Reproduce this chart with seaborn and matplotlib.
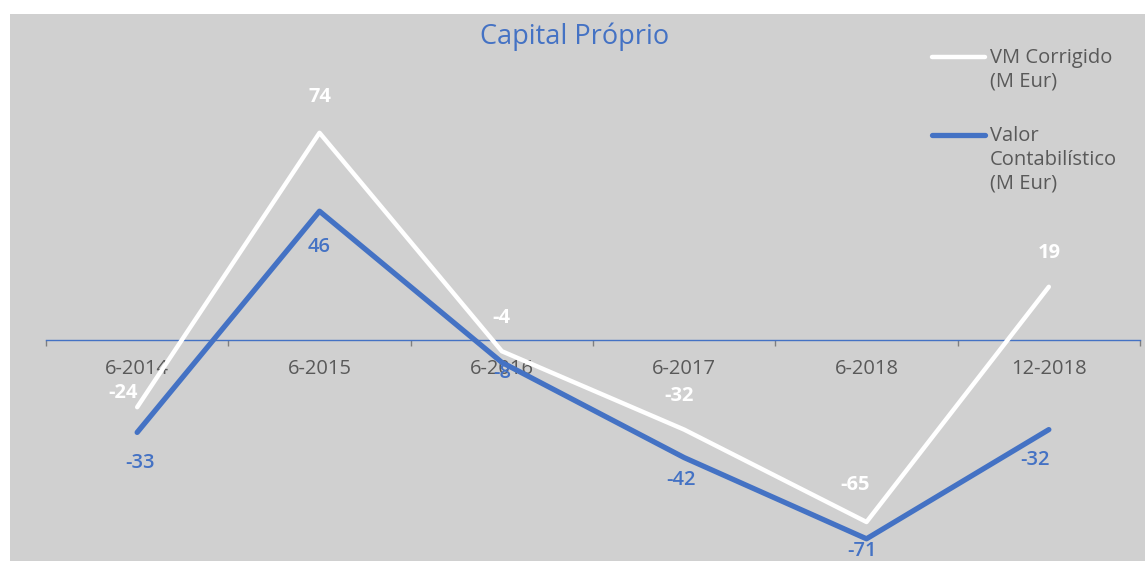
import matplotlib
matplotlib.use("Agg")
import matplotlib.pyplot as plt
from matplotlib.lines import Line2D
from matplotlib.patches import Rectangle
import seaborn as sns
import pandas as pd

categories = ["6-2014", "6-2015", "6-2016", "6-2017", "6-2018", "12-2018"]
vm_corrigido = [-24, 74, -4, -32, -65, 19]
valor_contabilistico = [-33, 46, -8, -42, -71, -32]
series_names = ["VM Corrigido\n(M Eur)", "Valor\nContabilístico\n(M Eur)"]
title = "Capital Próprio"

BLUE = "#4472C4"
WHITE = "#FFFFFF"
GRAY_TXT = "#595959"
BG = "#D0D0D0"

sns.set_theme(style="white")
plt.rcParams["font.family"] = ["Open Sans", "DejaVu Sans"]

W, H = 1145, 563
fig = plt.figure(figsize=(W / 100, H / 100), dpi=100, facecolor="white")
fig.patches.append(Rectangle((10 / W, 2 / H), 1 - 10 / W, (561 - 14) / H,
                             transform=fig.transFigure, facecolor=BG,
                             edgecolor="none", zorder=-5))

ax = fig.add_axes([46 / W, (H - 550) / H, 1094 / W, 490 / H])
ax.set_facecolor("none")
ax.set_zorder(2)

x = list(range(len(categories)))
df = pd.DataFrame({"x": x, "vm": vm_corrigido, "vc": valor_contabilistico})
sns.lineplot(data=df, x="x", y="vm", color=WHITE, linewidth=3.2, ax=ax, zorder=3)
sns.lineplot(data=df, x="x", y="vc", color=BLUE, linewidth=3.8, ax=ax, zorder=3)

ax.set_xlim(-0.5, len(categories) - 0.5)
ax.set_ylim(-75, 100)
for s in ["top", "right", "left"]:
    ax.spines[s].set_visible(False)
ax.spines["bottom"].set_position(("data", 0))
ax.spines["bottom"].set_color(BLUE)
ax.spines["bottom"].set_linewidth(1.0)
ax.set_yticks([])
ax.set_xlabel("")
ax.set_ylabel("")

ax.set_xticks([i - 0.5 for i in range(len(categories) + 1)])
ax.set_xticklabels([])
ax.tick_params(axis="x", which="major", direction="out", length=4.5,
               width=1, color="#7f7f7f", bottom=True)
ax.set_xticks(x, minor=True)
ax.set_xticklabels(categories, minor=True)
ax.tick_params(axis="x", which="minor", length=0, pad=13.5,
               labelsize=14.5, labelcolor=GRAY_TXT)

# data labels (offsets in pixels)
vm_off = [(-14, 14), (0, 36), (0, 33), (-5, 34), (-11, 37), (0, 34)]
vc_off = [(3, -31), (0, -36), (0, -11), (-3, -22), (-4, -12), (-14, -30)]
for i, v in enumerate(vm_corrigido):
    ax.annotate(f"{v}", (x[i], v), xytext=vm_off[i], textcoords="offset pixels",
                ha="center", va="center", fontsize=14.5, color=WHITE,
                fontweight="bold", zorder=5)
for i, v in enumerate(valor_contabilistico):
    ax.annotate(f"{v}", (x[i], v), xytext=vc_off[i], textcoords="offset pixels",
                ha="center", va="center", fontsize=14.5, color=BLUE,
                fontweight="semibold", zorder=5)

fig.text(575 / W, 1 - 37 / H, title, ha="center", va="center",
         fontsize=19.5, color=BLUE)

# legend
leg_items = [(57, WHITE, 3.2, series_names[0]), (135, BLUE, 3.8, series_names[1])]
for ypix, col, lw, lab in leg_items:
    yf = 1 - ypix / H
    fig.add_artist(Line2D([932 / W, 985 / W], [yf, yf], color=col, linewidth=lw,
                          transform=fig.transFigure))
    fig.text(990 / W, 1 - (ypix - 9) / H, lab, ha="left", va="top",
             fontsize=14.5, color=GRAY_TXT, linespacing=1.25)

fig.savefig("out.png", dpi=100, facecolor="white")
